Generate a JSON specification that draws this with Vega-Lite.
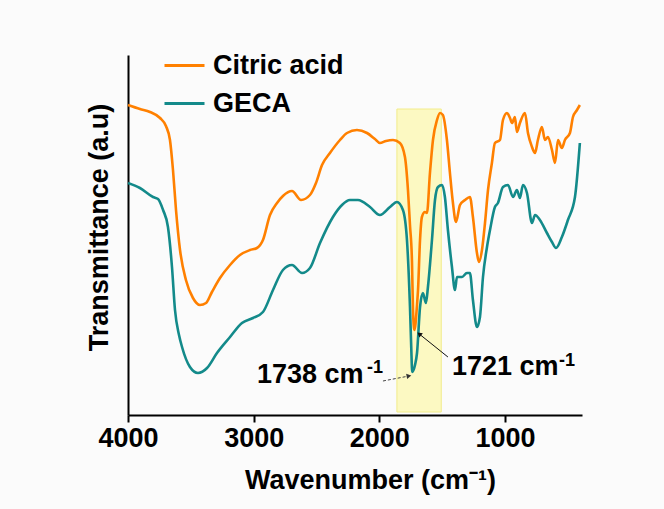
{
  "$schema": "https://vega.github.io/schema/vega-lite/v6.json",
  "width": 454,
  "height": 360,
  "autosize": {"type": "none"},
  "padding": {"left": 128, "top": 55, "right": 82, "bottom": 94},
  "background": "#fbfbfb",
  "config": {
    "view": {"stroke": null},
    "font": "Liberation Sans",
    "axis": {"grid": false, "domainColor": "black", "domainWidth": 2, "tickColor": "black", "tickWidth": 2, "labelColor": "black", "titleColor": "black", "labelFont": "Liberation Sans", "titleFont": "Liberation Sans"}
  },
  "datasets": {
    "band": [{"hi": 1860, "lo": 1507, "bottom": 3, "top": 306}],
    "spectra": [
      {"series": "Citric acid", "wn": 4000, "t": 310},
      {"series": "Citric acid", "wn": 3905, "t": 306},
      {"series": "Citric acid", "wn": 3825, "t": 303},
      {"series": "Citric acid", "wn": 3745, "t": 297},
      {"series": "Citric acid", "wn": 3698, "t": 289},
      {"series": "Citric acid", "wn": 3666, "t": 275},
      {"series": "Citric acid", "wn": 3642, "t": 245},
      {"series": "Citric acid", "wn": 3618, "t": 205},
      {"series": "Citric acid", "wn": 3586, "t": 165},
      {"series": "Citric acid", "wn": 3539, "t": 135},
      {"series": "Citric acid", "wn": 3483, "t": 117},
      {"series": "Citric acid", "wn": 3427, "t": 110},
      {"series": "Citric acid", "wn": 3379, "t": 112},
      {"series": "Citric acid", "wn": 3332, "t": 123},
      {"series": "Citric acid", "wn": 3268, "t": 137},
      {"series": "Citric acid", "wn": 3188, "t": 150},
      {"series": "Citric acid", "wn": 3109, "t": 160},
      {"series": "Citric acid", "wn": 3029, "t": 165},
      {"series": "Citric acid", "wn": 2974, "t": 167},
      {"series": "Citric acid", "wn": 2926, "t": 175},
      {"series": "Citric acid", "wn": 2870, "t": 200},
      {"series": "Citric acid", "wn": 2814, "t": 212},
      {"series": "Citric acid", "wn": 2767, "t": 219},
      {"series": "Citric acid", "wn": 2695, "t": 224},
      {"series": "Citric acid", "wn": 2623, "t": 215},
      {"series": "Citric acid", "wn": 2552, "t": 220},
      {"series": "Citric acid", "wn": 2504, "t": 232},
      {"series": "Citric acid", "wn": 2456, "t": 250},
      {"series": "Citric acid", "wn": 2393, "t": 262},
      {"series": "Citric acid", "wn": 2313, "t": 275},
      {"series": "Citric acid", "wn": 2257, "t": 282},
      {"series": "Citric acid", "wn": 2178, "t": 285},
      {"series": "Citric acid", "wn": 2098, "t": 282},
      {"series": "Citric acid", "wn": 2035, "t": 276},
      {"series": "Citric acid", "wn": 1995, "t": 272},
      {"series": "Citric acid", "wn": 1947, "t": 274},
      {"series": "Citric acid", "wn": 1891, "t": 275},
      {"series": "Citric acid", "wn": 1836, "t": 272},
      {"series": "Citric acid", "wn": 1796, "t": 258},
      {"series": "Citric acid", "wn": 1772, "t": 225},
      {"series": "Citric acid", "wn": 1756, "t": 190},
      {"series": "Citric acid", "wn": 1740, "t": 153},
      {"series": "Citric acid", "wn": 1732, "t": 105},
      {"series": "Citric acid", "wn": 1721, "t": 85},
      {"series": "Citric acid", "wn": 1700, "t": 110},
      {"series": "Citric acid", "wn": 1692, "t": 125},
      {"series": "Citric acid", "wn": 1676, "t": 175},
      {"series": "Citric acid", "wn": 1661, "t": 198},
      {"series": "Citric acid", "wn": 1637, "t": 203},
      {"series": "Citric acid", "wn": 1621, "t": 202},
      {"series": "Citric acid", "wn": 1597, "t": 242},
      {"series": "Citric acid", "wn": 1573, "t": 275},
      {"series": "Citric acid", "wn": 1541, "t": 295},
      {"series": "Citric acid", "wn": 1517, "t": 302},
      {"series": "Citric acid", "wn": 1494, "t": 300},
      {"series": "Citric acid", "wn": 1462, "t": 275},
      {"series": "Citric acid", "wn": 1438, "t": 242},
      {"series": "Citric acid", "wn": 1414, "t": 212},
      {"series": "Citric acid", "wn": 1390, "t": 193},
      {"series": "Citric acid", "wn": 1358, "t": 210},
      {"series": "Citric acid", "wn": 1318, "t": 215},
      {"series": "Citric acid", "wn": 1279, "t": 218},
      {"series": "Citric acid", "wn": 1255, "t": 198},
      {"series": "Citric acid", "wn": 1223, "t": 162},
      {"series": "Citric acid", "wn": 1207, "t": 153},
      {"series": "Citric acid", "wn": 1183, "t": 165},
      {"series": "Citric acid", "wn": 1159, "t": 192},
      {"series": "Citric acid", "wn": 1135, "t": 225},
      {"series": "Citric acid", "wn": 1104, "t": 252},
      {"series": "Citric acid", "wn": 1080, "t": 272},
      {"series": "Citric acid", "wn": 1040, "t": 275},
      {"series": "Citric acid", "wn": 1016, "t": 295},
      {"series": "Citric acid", "wn": 984, "t": 302},
      {"series": "Citric acid", "wn": 960, "t": 297},
      {"series": "Citric acid", "wn": 944, "t": 292},
      {"series": "Citric acid", "wn": 921, "t": 298},
      {"series": "Citric acid", "wn": 905, "t": 283},
      {"series": "Citric acid", "wn": 881, "t": 292},
      {"series": "Citric acid", "wn": 841, "t": 302},
      {"series": "Citric acid", "wn": 817, "t": 282},
      {"series": "Citric acid", "wn": 785, "t": 268},
      {"series": "Citric acid", "wn": 761, "t": 262},
      {"series": "Citric acid", "wn": 738, "t": 275},
      {"series": "Citric acid", "wn": 706, "t": 288},
      {"series": "Citric acid", "wn": 682, "t": 275},
      {"series": "Citric acid", "wn": 658, "t": 278},
      {"series": "Citric acid", "wn": 626, "t": 265},
      {"series": "Citric acid", "wn": 602, "t": 252},
      {"series": "Citric acid", "wn": 578, "t": 275},
      {"series": "Citric acid", "wn": 547, "t": 267},
      {"series": "Citric acid", "wn": 523, "t": 275},
      {"series": "Citric acid", "wn": 483, "t": 282},
      {"series": "Citric acid", "wn": 459, "t": 298},
      {"series": "Citric acid", "wn": 427, "t": 305},
      {"series": "Citric acid", "wn": 404, "t": 310},
      {"series": "GECA", "wn": 4000, "t": 232},
      {"series": "GECA", "wn": 3905, "t": 227},
      {"series": "GECA", "wn": 3801, "t": 218},
      {"series": "GECA", "wn": 3761, "t": 216},
      {"series": "GECA", "wn": 3721, "t": 205},
      {"series": "GECA", "wn": 3682, "t": 188},
      {"series": "GECA", "wn": 3650, "t": 148},
      {"series": "GECA", "wn": 3626, "t": 105},
      {"series": "GECA", "wn": 3594, "t": 80},
      {"series": "GECA", "wn": 3570, "t": 68},
      {"series": "GECA", "wn": 3507, "t": 48},
      {"series": "GECA", "wn": 3443, "t": 42},
      {"series": "GECA", "wn": 3371, "t": 47},
      {"series": "GECA", "wn": 3292, "t": 62},
      {"series": "GECA", "wn": 3188, "t": 78},
      {"series": "GECA", "wn": 3093, "t": 92},
      {"series": "GECA", "wn": 3005, "t": 97},
      {"series": "GECA", "wn": 2926, "t": 103},
      {"series": "GECA", "wn": 2846, "t": 125},
      {"series": "GECA", "wn": 2767, "t": 145},
      {"series": "GECA", "wn": 2695, "t": 150},
      {"series": "GECA", "wn": 2615, "t": 142},
      {"series": "GECA", "wn": 2552, "t": 147},
      {"series": "GECA", "wn": 2472, "t": 172},
      {"series": "GECA", "wn": 2369, "t": 198},
      {"series": "GECA", "wn": 2297, "t": 210},
      {"series": "GECA", "wn": 2234, "t": 215},
      {"series": "GECA", "wn": 2170, "t": 215},
      {"series": "GECA", "wn": 2074, "t": 208},
      {"series": "GECA", "wn": 1995, "t": 200},
      {"series": "GECA", "wn": 1915, "t": 208},
      {"series": "GECA", "wn": 1860, "t": 213},
      {"series": "GECA", "wn": 1812, "t": 205},
      {"series": "GECA", "wn": 1780, "t": 175},
      {"series": "GECA", "wn": 1756, "t": 108},
      {"series": "GECA", "wn": 1746, "t": 68},
      {"series": "GECA", "wn": 1738, "t": 43},
      {"series": "GECA", "wn": 1716, "t": 50},
      {"series": "GECA", "wn": 1700, "t": 62},
      {"series": "GECA", "wn": 1676, "t": 108},
      {"series": "GECA", "wn": 1653, "t": 122},
      {"series": "GECA", "wn": 1629, "t": 112},
      {"series": "GECA", "wn": 1613, "t": 128},
      {"series": "GECA", "wn": 1581, "t": 175},
      {"series": "GECA", "wn": 1557, "t": 215},
      {"series": "GECA", "wn": 1533, "t": 228},
      {"series": "GECA", "wn": 1501, "t": 230},
      {"series": "GECA", "wn": 1478, "t": 218},
      {"series": "GECA", "wn": 1454, "t": 185},
      {"series": "GECA", "wn": 1422, "t": 148},
      {"series": "GECA", "wn": 1398, "t": 125},
      {"series": "GECA", "wn": 1382, "t": 138},
      {"series": "GECA", "wn": 1342, "t": 138},
      {"series": "GECA", "wn": 1303, "t": 142},
      {"series": "GECA", "wn": 1279, "t": 142},
      {"series": "GECA", "wn": 1255, "t": 115},
      {"series": "GECA", "wn": 1223, "t": 88},
      {"series": "GECA", "wn": 1199, "t": 98},
      {"series": "GECA", "wn": 1175, "t": 138},
      {"series": "GECA", "wn": 1143, "t": 168},
      {"series": "GECA", "wn": 1119, "t": 185},
      {"series": "GECA", "wn": 1080, "t": 208},
      {"series": "GECA", "wn": 1056, "t": 212},
      {"series": "GECA", "wn": 1016, "t": 228},
      {"series": "GECA", "wn": 976, "t": 230},
      {"series": "GECA", "wn": 936, "t": 218},
      {"series": "GECA", "wn": 905, "t": 225},
      {"series": "GECA", "wn": 881, "t": 217},
      {"series": "GECA", "wn": 857, "t": 230},
      {"series": "GECA", "wn": 825, "t": 222},
      {"series": "GECA", "wn": 785, "t": 192},
      {"series": "GECA", "wn": 761, "t": 200},
      {"series": "GECA", "wn": 722, "t": 195},
      {"series": "GECA", "wn": 666, "t": 182},
      {"series": "GECA", "wn": 626, "t": 173},
      {"series": "GECA", "wn": 594, "t": 167},
      {"series": "GECA", "wn": 547, "t": 178},
      {"series": "GECA", "wn": 499, "t": 195},
      {"series": "GECA", "wn": 443, "t": 218},
      {"series": "GECA", "wn": 404, "t": 272}
    ],
    "arrows": [
      {"peak": "1738", "wn0": 1971, "t0": 34, "wn1": 1764, "t1": 39},
      {"peak": "1721", "wn0": 1454, "t0": 58, "wn1": 1682, "t1": 81}
    ],
    "notes": [
      {"role": "main", "text": "1738 cm", "wn": 2974, "t": 32},
      {"role": "sup", "text": "-1", "wn": 2098, "t": 42},
      {"role": "main", "text": "1721 cm", "wn": 1422, "t": 40},
      {"role": "sup", "text": "-1", "wn": 570, "t": 49}
    ]
  },
  "encoding": {
    "x": {
      "field": "wn", "type": "quantitative",
      "scale": {"domain": [387, 4000], "reverse": true, "nice": false, "zero": false},
      "axis": {
        "values": [4000, 3000, 2000, 1000], "format": "d", "labelFlush": false,
        "labelFontSize": 27, "labelFontWeight": "bold", "labelPadding": 3, "tickSize": 7,
        "title": "Wavenumber (cm⁻¹)", "titleFontSize": 27, "titleFontWeight": "bold",
        "titleX": 242, "titleY": 73, "titleBaseline": "alphabetic", "titleAlign": "center"
      }
    },
    "y": {
      "field": "t", "type": "quantitative",
      "scale": {"domain": [0, 360], "nice": false, "zero": false},
      "axis": {
        "ticks": false, "labels": false,
        "title": "Transmittance (a.u)", "titleFontSize": 27, "titleFontWeight": "bold",
        "titleX": -21, "titleY": 172, "titleAngle": -90, "titleBaseline": "alphabetic", "titleAlign": "center"
      }
    }
  },
  "layer": [
    {
      "data": {"name": "band"},
      "mark": {"type": "rect", "fill": "#fcf9c2", "stroke": "#f2ec8a", "strokeWidth": 1},
      "encoding": {
        "x": {"field": "hi", "type": "quantitative"},
        "x2": {"field": "lo"},
        "y": {"field": "bottom", "type": "quantitative"},
        "y2": {"field": "top"}
      }
    },
    {
      "data": {"name": "spectra"},
      "mark": {"type": "line", "strokeWidth": 2.6, "interpolate": "monotone"},
      "encoding": {
        "color": {
          "field": "series", "type": "nominal",
          "scale": {"domain": ["Citric acid", "GECA"], "range": ["#ff8000", "#138a8a"]},
          "legend": {
            "title": null, "orient": "none", "legendX": 35, "legendY": -11,
            "symbolType": "stroke", "symbolSize": 1600, "symbolStrokeWidth": 3,
            "labelFontSize": 27, "labelFontWeight": "bold", "labelColor": "black", "labelFont": "Liberation Sans",
            "labelOffset": 7, "rowPadding": 3, "padding": 0
          }
        }
      }
    },
    {
      "data": {"name": "arrows"},
      "transform": [{"filter": "datum.peak == '1738'"}],
      "mark": {"type": "rule", "stroke": "#444", "strokeWidth": 1, "strokeDash": [3, 2]},
      "encoding": {
        "x": {"field": "wn0", "type": "quantitative"},
        "y": {"field": "t0", "type": "quantitative"},
        "x2": {"field": "wn1"},
        "y2": {"field": "t1"}
      }
    },
    {
      "data": {"name": "arrows"},
      "transform": [{"filter": "datum.peak == '1721'"}],
      "mark": {"type": "rule", "stroke": "#111", "strokeWidth": 1},
      "encoding": {
        "x": {"field": "wn0", "type": "quantitative"},
        "y": {"field": "t0", "type": "quantitative"},
        "x2": {"field": "wn1"},
        "y2": {"field": "t1"}
      }
    },
    {
      "data": {"name": "arrows"},
      "transform": [{"filter": "datum.peak == '1738'"}],
      "mark": {"type": "point", "shape": "triangle-up", "angle": 80, "filled": true, "color": "#333", "size": 30, "opacity": 1},
      "encoding": {
        "x": {"field": "wn1", "type": "quantitative"},
        "y": {"field": "t1", "type": "quantitative"}
      }
    },
    {
      "data": {"name": "arrows"},
      "transform": [{"filter": "datum.peak == '1721'"}],
      "mark": {"type": "point", "shape": "triangle-up", "angle": -51, "filled": true, "color": "#111", "size": 30, "opacity": 1},
      "encoding": {
        "x": {"field": "wn1", "type": "quantitative"},
        "y": {"field": "t1", "type": "quantitative"}
      }
    },
    {
      "data": {"name": "notes"},
      "transform": [{"filter": "datum.role == 'main'"}],
      "mark": {"type": "text", "align": "left", "baseline": "alphabetic", "fontSize": 27, "fontWeight": "bold", "color": "black", "font": "Liberation Sans"},
      "encoding": {
        "x": {"field": "wn", "type": "quantitative"},
        "y": {"field": "t", "type": "quantitative"},
        "text": {"field": "text"}
      }
    },
    {
      "data": {"name": "notes"},
      "transform": [{"filter": "datum.role == 'sup'"}],
      "mark": {"type": "text", "align": "left", "baseline": "alphabetic", "fontSize": 18, "fontWeight": "bold", "color": "black", "font": "Liberation Sans"},
      "encoding": {
        "x": {"field": "wn", "type": "quantitative"},
        "y": {"field": "t", "type": "quantitative"},
        "text": {"field": "text"}
      }
    }
  ]
}
